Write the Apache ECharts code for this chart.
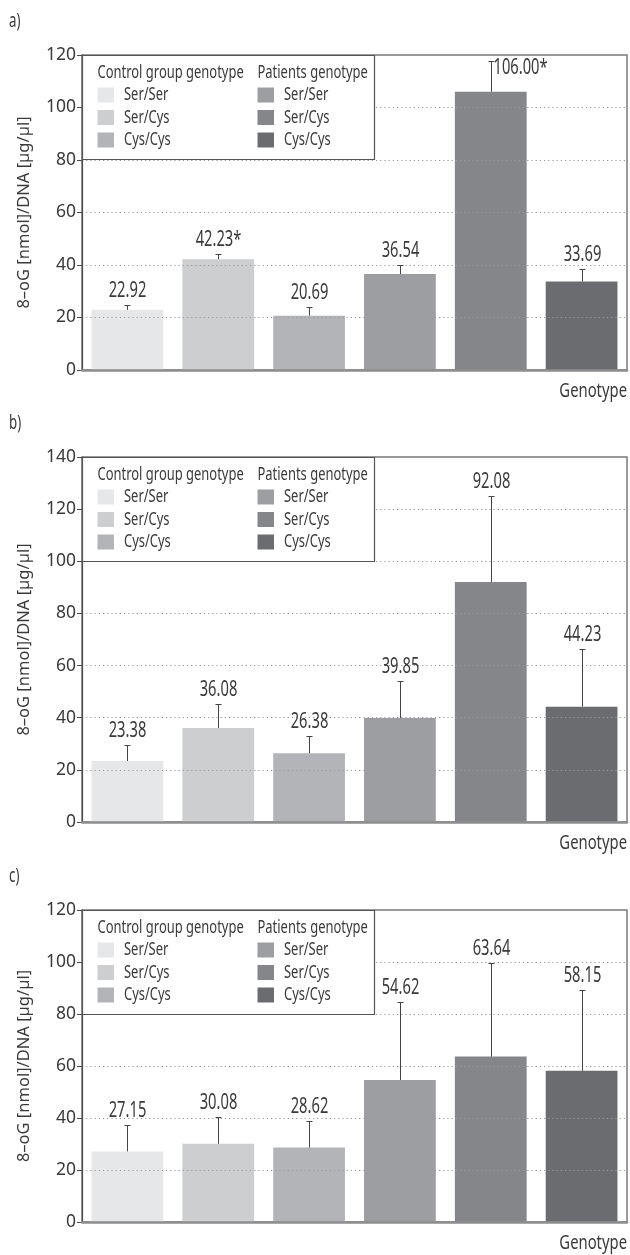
<!DOCTYPE html>
<html>
<head>
<meta charset="utf-8">
<script src="https://cdn.jsdelivr.net/npm/echarts@6/dist/echarts.min.js"></script>
<style>
html,body{margin:0;padding:0;background:#fff;}
#chart{width:630px;height:1255px;}
</style>
</head>
<body>
<div id="chart"></div>
<script>
// ---- data ----
const categories = ['Ser/Ser', 'Ser/Cys', 'Cys/Cys', 'Ser/Ser', 'Ser/Cys', 'Cys/Cys'];
const groupTitles = ['Control group genotype', 'Patients genotype'];
const panelNames = ['a)', 'b)', 'c)'];
const yTicksA = [0, 20, 40, 60, 80, 100, 120];
const yTicksB = [0, 20, 40, 60, 80, 100, 120, 140];
const yTicksC = [0, 20, 40, 60, 80, 100, 120];

const valuesA = [22.92, 42.23, 20.69, 36.54, 106.00, 33.69];
const errorsA = [2.0, 2.1, 3.5, 3.3, 11.8, 4.8];
const labelsA = ['22.92', '42.23*', '20.69', '36.54', '106.00*', '33.69'];

const valuesB = [23.38, 36.08, 26.38, 39.85, 92.08, 44.23];
const errorsB = [6.0, 9.2, 6.6, 14.4, 33.0, 22.3];
const labelsB = ['23.38', '36.08', '26.38', '39.85', '92.08', '44.23'];

const valuesC = [27.15, 30.08, 28.62, 54.62, 63.64, 58.15];
const errorsC = [10.0, 10.4, 10.4, 30.1, 36.0, 31.2];
const labelsC = ['27.15', '30.08', '28.62', '54.62', '63.64', '58.15'];

const yAxisTitle = '8–oG [nmol]/DNA [µg/µl]';
const xAxisTitle = 'Genotype';

// ---- styling ----
const colors = ['#e6e7e8', '#cdced0', '#b3b4b7', '#9d9ea1', '#858689', '#6b6c70'];
const FONT = '"Noto Sans","Open Sans",sans-serif';
const TXT = '#3a3a3a';
const SX = 0.7; // horizontal condensing of text

const panels = [
  {top: 55,  height: 315, ticks: yTicksA, values: valuesA, errors: errorsA, labels: labelsA},
  {top: 457, height: 365, ticks: yTicksB, values: valuesB, errors: errorsB, labels: labelsB},
  {top: 910, height: 312, ticks: yTicksC, values: valuesC, errors: errorsC, labels: labelsC}
];
const LEFT = 82, WIDTH = 545;

const grid = [], xAxis = [], yAxis = [], series = [], graphic = [];

function condensedText(x, y, text, size, align, valign, z, sx) {
  return {type: 'text', x: x, y: y, scaleX: sx || SX, z: z || 11,
    style: {text: text, x: 0, y: 0, fontFamily: FONT, fontSize: size, fill: TXT,
      align: align, verticalAlign: valign, textAlign: align, textVerticalAlign: valign}};
}

panels.forEach((p, i) => {
  const ymax = p.ticks[p.ticks.length - 1];
  const step = p.ticks[1] - p.ticks[0];
  grid.push({left: LEFT, top: p.top, width: WIDTH, height: p.height, show: true,
    borderColor: '#7a7a7a', borderWidth: 1.5, backgroundColor: 'transparent', containLabel: false});
  xAxis.push({type: 'category', gridIndex: i, data: categories,
    axisLine: {show: true, lineStyle: {color: '#8d8d8d', width: 2.5}},
    axisTick: {show: false}, axisLabel: {show: false}, splitLine: {show: false}, z: 5});
  yAxis.push({type: 'value', gridIndex: i, min: p.ticks[0], max: ymax, interval: step,
    name: yAxisTitle, nameLocation: 'middle', nameGap: 49, nameRotate: 90,
    nameTextStyle: {fontFamily: FONT, fontSize: 16.5, color: TXT},
    axisLine: {show: true, lineStyle: {color: '#4a4a4a', width: 1.2}},
    axisTick: {show: true, inside: false, length: 5, lineStyle: {color: '#4a4a4a'}},
    axisLabel: {fontFamily: FONT, fontSize: 17.5, color: TXT, margin: 6},
    splitLine: {show: true, lineStyle: {color: '#9a9a9a', type: [1.2, 3], width: 1}}, z: 4});

  series.push({type: 'bar', xAxisIndex: i, yAxisIndex: i,
    data: p.values.map((v, k) => ({value: v, itemStyle: {color: colors[k]}})),
    barCategoryGap: '21%', z: 2, silent: true, animation: false});

  series.push({type: 'custom', xAxisIndex: i, yAxisIndex: i, z: 6, animation: false, silent: true,
    data: p.values.map((v, k) => [k, v, v + p.errors[k]]),
    renderItem: function (params, api) {
      const k = api.value(0);
      const base = api.coord([k, api.value(1)]);
      const topPt = api.coord([k, api.value(2)]);
      const cx = Math.round(base[0]) + 0.5;
      const capY = Math.round(topPt[1]) + 0.5;
      const ls = {stroke: '#444', lineWidth: 1};
      const children = [
        {type: 'line', shape: {x1: cx, y1: base[1], x2: cx, y2: capY}, style: ls},
        {type: 'line', shape: {x1: cx - 3, y1: capY, x2: cx + 3, y2: capY}, style: ls}
      ];
      const nearTop = capY - p.top < 30;
      if (nearTop) {
        children.push(condensedText(cx + 2, capY - 4, p.labels[k], 21, 'left', 'top', 7));
      } else {
        children.push(condensedText(cx, capY - 4, p.labels[k], 21, 'center', 'bottom', 7));
      }
      return {type: 'group', children: children};
    }});

  // panel letter
  graphic.push(condensedText(9, p.top - 33, panelNames[i], 19, 'left', 'middle'));
  // x-axis title
  graphic.push(condensedText(627, p.top + p.height + 22, xAxisTitle, 19, 'right', 'middle', 11, 0.78));

  // legend box
  const lx = LEFT, ly = p.top;
  graphic.push({type: 'rect', shape: {x: lx + 0.5, y: ly + 0.5, width: 292, height: 104},
    style: {fill: '#fff', stroke: '#555', lineWidth: 1.2}, z: 10});
  const colX = [lx + 15.5, lx + 175.5];
  groupTitles.forEach((t, g) => {
    graphic.push(condensedText(colX[g], ly + 18, t, 18.5, 'left', 'middle'));
    for (let r = 0; r < 3; r++) {
      const idx = g * 3 + r;
      const cyy = ly + 40 + r * 22.5;
      graphic.push({type: 'rect', z: 11, shape: {x: colX[g], y: cyy - 7.5, width: 16.5, height: 15}, style: {fill: colors[idx]}});
      graphic.push(condensedText(colX[g] + 26.5, cyy, categories[idx], 18.5, 'left', 'middle'));
    }
  });
});

const chart = echarts.init(document.getElementById('chart'), null, {renderer: 'canvas'});
chart.setOption({animation: false, backgroundColor: '#fff', grid, xAxis, yAxis, series, graphic});
</script>
</body>
</html>
